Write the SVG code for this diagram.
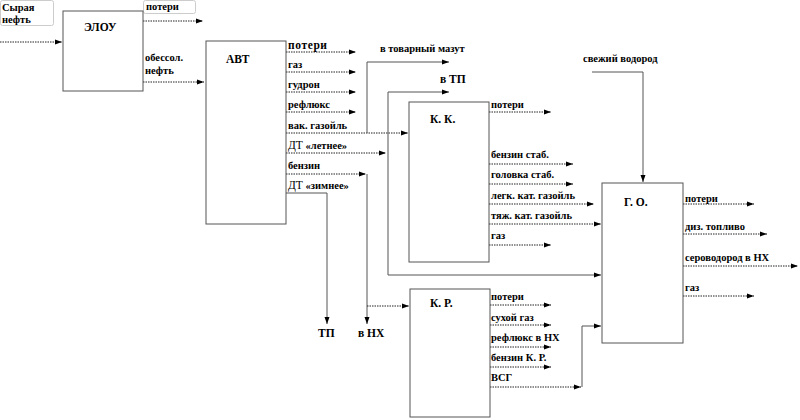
<svg xmlns="http://www.w3.org/2000/svg" width="800" height="420" viewBox="0 0 800 420">
<style>
text{font-family:'Liberation Serif', 'Times New Roman', serif;font-weight:bold;font-size:10.5px;fill:#000}
.t{font-size:11.5px}
.box{fill:#fff;stroke:#555;stroke-width:1}
.lb{fill:#fff;stroke:#ccc;stroke-width:1}
.c path{fill:none;stroke:#222;stroke-width:1;stroke-dasharray:1.5 1}
.c path.v{stroke:#555;stroke-dasharray:none}
</style>
<defs>
<marker id="a" markerWidth="7" markerHeight="6" refX="7" refY="3" orient="auto" markerUnits="userSpaceOnUse"><path d="M0,0.5 L7,3 L0,5.5 z" fill="#000"/></marker>
</defs>
<rect width="800" height="420" fill="#fff"/>
<g class="c" id="connectors">
<path d="M0,42 H62" marker-end="url(#a)"/>
<path d="M143,21 H203" marker-end="url(#a)"/>
<path d="M143,82 H204" marker-end="url(#a)"/>
<path d="M286,52 H356" marker-end="url(#a)"/>
<path d="M286,72 H356" marker-end="url(#a)"/>
<path d="M286,92 H356" marker-end="url(#a)"/>
<path d="M286,112 H356" marker-end="url(#a)"/>
<path d="M286,133 H408" marker-end="url(#a)"/>
<path class="v" d="M367,133 V62 H449" marker-end="url(#a)"/>
<path d="M286,153 H386" marker-end="url(#a)"/>
<path class="v" d="M388,153 V92 H449" marker-end="url(#a)"/>
<path class="v" d="M388,153 V275 H601" marker-end="url(#a)"/>
<path d="M286,174 H366" marker-end="url(#a)"/>
<path class="v" d="M367,174 V324" marker-end="url(#a)"/>
<path d="M367,306 H409" marker-end="url(#a)"/>
<path class="v" d="M286,193 H327 V324" marker-end="url(#a)"/>
<path d="M489,112 H551" marker-end="url(#a)"/>
<path d="M489,164 H573" marker-end="url(#a)"/>
<path d="M489,184 H573" marker-end="url(#a)"/>
<path d="M489,204 H594" marker-end="url(#a)"/>
<path d="M489,224 H601" marker-end="url(#a)"/>
<path d="M489,245 H551" marker-end="url(#a)"/>
<path d="M490,305 H551" marker-end="url(#a)"/>
<path d="M490,325 H551" marker-end="url(#a)"/>
<path d="M490,347 H551" marker-end="url(#a)"/>
<path d="M490,367 H551" marker-end="url(#a)"/>
<path d="M490,387 H581" marker-end="url(#a)"/>
<path class="v" d="M582,387 V326 H601" marker-end="url(#a)"/>
<path class="v" d="M592,72 H643 V182" marker-end="url(#a)"/>
<path d="M683,204 H754" marker-end="url(#a)"/>
<path d="M683,234 H767" marker-end="url(#a)"/>
<path d="M683,266 H798" marker-end="url(#a)"/>
<path d="M683,296 H754" marker-end="url(#a)"/>
</g>
<g id="labels">
<rect class="lb" x="0.5" y="0.5" width="53" height="25" rx="2"/>
<text x="2" y="11">Сырая</text>
<text x="2" y="23">нефть</text>
<rect class="lb" x="143.5" y="0.5" width="52" height="13" rx="2"/>
<text x="146" y="10">потери</text>
<text x="145" y="61">обессол.</text>
<text x="145" y="74">нефть</text>
<text x="288" y="49" class="t" letter-spacing="0.6">потери</text>
<text x="288" y="68">газ</text>
<text x="288" y="88">гудрон</text>
<text x="288" y="108">рефлюкс</text>
<text x="288" y="129">вак. газойль</text>
<text x="288" y="149"><tspan class="t" font-weight="normal">ДТ</tspan> «летнее»</text>
<text x="288" y="169">бензин</text>
<text x="288" y="189"><tspan class="t" font-weight="normal">ДТ</tspan> «зимнее»</text>
<text x="380" y="52">в товарный мазут</text>
<text x="440" y="83" class="t">в ТП</text>
<text x="491" y="108">потери</text>
<text x="491" y="158">бензин стаб.</text>
<text x="491" y="178">головка стаб.</text>
<text x="491" y="199">легк. кат. газойль</text>
<text x="491" y="219">тяж. кат. газойль</text>
<text x="491" y="239">газ</text>
<text x="583" y="62">свежий водород</text>
<text x="685" y="202">потери</text>
<text x="685" y="230">диз. топливо</text>
<text x="685" y="261">сероводород в НХ</text>
<text x="685" y="291">газ</text>
<text x="491" y="300">потери</text>
<text x="491" y="321">сухой газ</text>
<text x="491" y="341">рефлюкс в НХ</text>
<text x="491" y="361">бензин К. Р.</text>
<text x="491" y="381">ВСГ</text>
<text x="318" y="337" class="t">ТП</text>
<text x="358" y="337" class="t">в НХ</text>
</g>
<g id="elou"><rect class="box" x="63" y="11" width="80" height="80"/><text x="84" y="31" class="t">ЭЛОУ</text></g>
<g id="avt"><rect class="box" x="206" y="41" width="80" height="183"/><text x="226" y="63" class="t">АВТ</text></g>
<g id="kk"><rect class="box" x="409" y="102" width="80" height="160"/><text x="430" y="123" class="t">К. К.</text></g>
<g id="kr"><rect class="box" x="410" y="289" width="80" height="128"/><text x="430" y="307" class="t">К. Р.</text></g>
<g id="go"><rect class="box" x="602" y="183" width="81" height="160"/><text x="624" y="206" class="t">Г. О.</text></g>
</svg>
